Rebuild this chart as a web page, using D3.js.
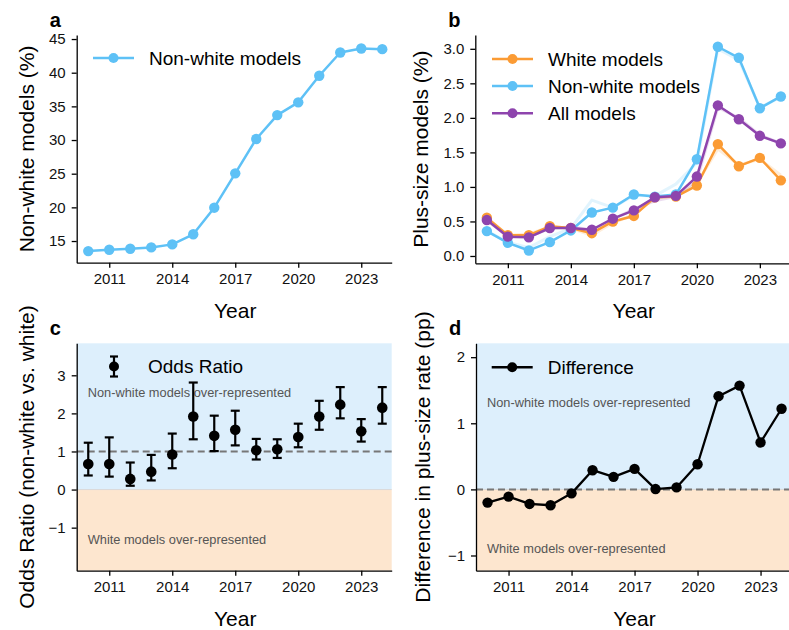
<!DOCTYPE html>
<html>
<head>
<meta charset="utf-8">
<script src="https://cdn.jsdelivr.net/npm/d3@7"></script>
<style>
  body { margin: 0; background: #fff; }
  svg { font-family: "Liberation Sans", Arial, Helvetica, sans-serif; }
</style>
</head>
<body>
<script>
// values
const years = d3.range(2010, 2025);
const xTicks = [2011, 2014, 2017, 2020, 2023];

// a: share of non-white models (%)
const nonWhiteShare = [13.5, 13.7, 13.85, 14.05, 14.5, 16.0, 19.95, 25.05, 30.15, 33.7, 35.6, 39.55, 43.0, 43.6, 43.5];

// b: plus-size rate (%)
const plusWhite    = [0.555, 0.30, 0.30, 0.43, 0.405, 0.33, 0.50, 0.58, 0.85, 0.86, 1.02, 1.62, 1.30, 1.42, 1.095];
const plusNonWhite = [0.36, 0.19, 0.08, 0.20, 0.37, 0.63, 0.70, 0.89, 0.86, 0.89, 1.40, 3.03, 2.87, 2.14, 2.31];
const plusAll      = [0.52, 0.28, 0.27, 0.405, 0.405, 0.38, 0.54, 0.66, 0.85, 0.87, 1.15, 2.18, 1.98, 1.74, 1.63];
// faint companion lines behind the main ones
const plusWhiteAlt    = [0.55, 0.30, 0.32, 0.42, 0.40, 0.30, 0.48, 0.60, 0.84, 0.86, 1.05, 1.55, 1.32, 1.40, 1.17];
const plusNonWhiteAlt = [0.36, 0.20, 0.12, 0.28, 0.40, 0.81, 0.70, 0.88, 0.87, 1.04, 1.35, 3.00, 2.84, 2.15, 2.30];
const plusAllAlt      = [0.52, 0.28, 0.28, 0.40, 0.42, 0.38, 0.53, 0.68, 0.80, 0.86, 1.10, 2.15, 2.00, 1.75, 1.63];

// c: odds ratio with CI
const oddsRatio = [0.67, 0.67, 0.28, 0.47, 0.92, 1.92, 1.41, 1.57, 1.03, 1.06, 1.38, 1.92, 2.23, 1.53, 2.15];
const orLow     = [0.37, 0.34, 0.10, 0.24, 0.56, 1.32, 1.01, 1.16, 0.79, 0.83, 1.11, 1.57, 1.87, 1.26, 1.73];
const orHigh    = [1.23, 1.37, 0.71, 0.91, 1.47, 2.81, 1.94, 2.07, 1.33, 1.32, 1.73, 2.33, 2.69, 1.85, 2.69];

// d: difference in plus-size rate (pp)
const diffRate = [-0.20, -0.11, -0.22, -0.24, -0.06, 0.29, 0.19, 0.31, 0.005, 0.03, 0.38, 1.41, 1.57, 0.71, 1.22];

const blue = "#5ec1f6", orange = "#fb9b34", purple = "#8e44ad";
const shadeBlue = "#ddeffc", shadeOrange = "#fde6cf";

const W = 789, H = 630;
const svg = d3.select("body").append("svg").attr("width", W).attr("height", H);

const fmtMinus = v => (v < 0 ? "\u2212" + Math.abs(v) : String(v));

function panel(opt) {
  const x = d3.scaleLinear().domain([2009.45, 2024.45]).range([opt.left, opt.left + 315]);
  const y = d3.scaleLinear().domain(opt.yDomain).range([opt.bottom, opt.top]);
  const g = svg.append("g");

  if (opt.shade) {
    g.append("rect").attr("x", x.range()[0]).attr("width", x.range()[1] - x.range()[0])
      .attr("y", y(opt.yDomain[1])).attr("height", y(0) - y(opt.yDomain[1])).attr("fill", shadeBlue);
    g.append("rect").attr("x", x.range()[0]).attr("width", x.range()[1] - x.range()[0])
      .attr("y", y(0)).attr("height", y(opt.yDomain[0]) - y(0)).attr("fill", shadeOrange);
    g.append("line").attr("x1", x.range()[0]).attr("x2", x.range()[1])
      .attr("y1", y(0)).attr("y2", y(0)).attr("stroke", "#d9d9d9").attr("stroke-width", 1);
    g.append("line").attr("x1", x.range()[0]).attr("x2", x.range()[1])
      .attr("y1", y(opt.refLine)).attr("y2", y(opt.refLine))
      .attr("stroke", "#777").attr("stroke-width", 2).attr("stroke-dasharray", "7,4");
    opt.notes.forEach(n => {
      g.append("text").attr("x", x.range()[0] + 11).attr("y", y(n.v) + 4.5)
        .attr("font-size", 12.8).attr("fill", "#555").text(n.t);
    });
  }

  // axes
  const xAxis = g.append("g").attr("transform", `translate(0,${opt.bottom})`)
    .call(d3.axisBottom(x).tickValues(xTicks).tickFormat(d3.format("d")).tickSize(5).tickPadding(6).tickSizeOuter(0));
  const yAxis = g.append("g").attr("transform", `translate(${opt.left},0)`)
    .call(d3.axisLeft(y).tickValues(opt.yTicks).tickFormat(opt.yFormat).tickSize(5).tickPadding(6).tickSizeOuter(0));
  [xAxis, yAxis].forEach(a => {
    a.select(".domain").attr("stroke", "#000").attr("stroke-width", 1.3);
    a.selectAll(".tick line").attr("stroke", "#000").attr("stroke-width", 1.3);
    a.selectAll(".tick text").attr("font-size", 15).attr("fill", "#111")
      .attr("font-family", "Liberation Sans, Arial, sans-serif");
  });

  // titles
  g.append("text").attr("x", (x.range()[0] + x.range()[1]) / 2 + 1).attr("y", opt.bottom + 55)
    .attr("text-anchor", "middle").attr("font-size", 21).text("Year");
  g.append("text")
    .attr("transform", `translate(${opt.yTitleX},${(opt.top + opt.bottom) / 2}) rotate(-90)`)
    .attr("text-anchor", "middle").attr("font-size", 21).text(opt.yTitle);
  g.append("text").attr("x", opt.left - 27).attr("y", opt.top - 8)
    .attr("font-size", 20).attr("font-weight", "bold").text(opt.letter);

  return { g, x, y };
}

function lineSeries(p, values, color, opts = {}) {
  const line = d3.line().x((d, i) => p.x(years[i])).y(d => p.y(d));
  p.g.append("path").datum(values).attr("d", line).attr("fill", "none")
    .attr("stroke", color).attr("stroke-width", opts.width || 2.5)
    .attr("stroke-opacity", opts.opacity || 1).attr("stroke-linejoin", "round");
  if (opts.dots !== false) {
    p.g.selectAll(null).data(values).enter().append("circle")
      .attr("cx", (d, i) => p.x(years[i])).attr("cy", d => p.y(d)).attr("r", 5.2)
      .attr("fill", color);
  }
}

function legendLine(p, x0, yc, color, label) {
  p.g.append("line").attr("x1", x0).attr("x2", x0 + 41).attr("y1", yc).attr("y2", yc)
    .attr("stroke", color).attr("stroke-width", 2.5);
  p.g.append("circle").attr("cx", x0 + 20.5).attr("cy", yc).attr("r", 5).attr("fill", color);
  p.g.append("text").attr("x", x0 + 56).attr("y", yc + 6.8).attr("font-size", 19).text(label);
}

// panel a
const pa = panel({
  left: 76.7, top: 35, bottom: 262.7, yDomain: [11.78, 45.6],
  yTicks: [15, 20, 25, 30, 35, 40, 45], yFormat: d3.format("d"),
  yTitle: "Non-white models (%)", yTitleX: 33.5, letter: "a"
});
lineSeries(pa, nonWhiteShare, blue);
legendLine(pa, 93, 58, blue, "Non-white models");

// panel b
const pb = panel({
  left: 475.3, top: 35, bottom: 263.3, yDomain: [-0.106, 3.2],
  yTicks: [0, 0.5, 1, 1.5, 2, 2.5, 3], yFormat: d3.format(".1f"),
  yTitle: "Plus-size models (%)", yTitleX: 428, letter: "b"
});
lineSeries(pb, plusWhiteAlt, orange, { width: 3, opacity: 0.18, dots: false });
lineSeries(pb, plusNonWhiteAlt, blue, { width: 3, opacity: 0.18, dots: false });
lineSeries(pb, plusAllAlt, purple, { width: 3, opacity: 0.18, dots: false });
lineSeries(pb, plusWhite, orange);
lineSeries(pb, plusNonWhite, blue);
lineSeries(pb, plusAll, purple);
legendLine(pb, 492, 59, orange, "White models");
legendLine(pb, 492, 86, blue, "Non-white models");
legendLine(pb, 492, 113.3, purple, "All models");

// panel c
const pc = panel({
  left: 76.7, top: 343.3, bottom: 570.7, yDomain: [-2.13, 3.84],
  yTicks: [-1, 0, 1, 2, 3], yFormat: fmtMinus,
  yTitle: "Odds Ratio (non-white vs. white)", yTitleX: 34, letter: "c",
  shade: true, refLine: 1,
  notes: [{ v: 2.55, t: "Non-white models over-represented" }, { v: -1.3, t: "White models over-represented" }]
});
years.forEach((yr, i) => {
  const cx = pc.x(yr);
  pc.g.append("line").attr("x1", cx).attr("x2", cx).attr("y1", pc.y(orLow[i])).attr("y2", pc.y(orHigh[i]))
    .attr("stroke", "#000").attr("stroke-width", 2.2);
  [orLow[i], orHigh[i]].forEach(v => {
    pc.g.append("line").attr("x1", cx - 4.5).attr("x2", cx + 4.5).attr("y1", pc.y(v)).attr("y2", pc.y(v))
      .attr("stroke", "#000").attr("stroke-width", 2.2);
  });
});
pc.g.selectAll(null).data(oddsRatio).enter().append("circle")
  .attr("cx", (d, i) => pc.x(years[i])).attr("cy", d => pc.y(d)).attr("r", 5.3).attr("fill", "#000");
// legend c
{
  const lx = 114, ly = 366.5;
  pc.g.append("line").attr("x1", lx).attr("x2", lx).attr("y1", ly - 10).attr("y2", ly + 10).attr("stroke", "#000").attr("stroke-width", 2.2);
  [ly - 10, ly + 10].forEach(v => pc.g.append("line").attr("x1", lx - 4).attr("x2", lx + 4).attr("y1", v).attr("y2", v).attr("stroke", "#000").attr("stroke-width", 2.2));
  pc.g.append("circle").attr("cx", lx).attr("cy", ly).attr("r", 5).attr("fill", "#000");
  pc.g.append("text").attr("x", 148).attr("y", ly + 6.8).attr("font-size", 19).text("Odds Ratio");
}

// panel d
const pd = panel({
  left: 476, top: 343.3, bottom: 570.7, yDomain: [-1.23, 2.21],
  yTicks: [-1, 0, 1, 2], yFormat: fmtMinus,
  yTitle: "Difference in plus-size rate (pp)", yTitleX: 429.5, letter: "d",
  shade: true, refLine: 0,
  notes: [{ v: 1.32, t: "Non-white models over-represented" }, { v: -0.9, t: "White models over-represented" }]
});
lineSeries(pd, diffRate, "#000", { width: 2.3 });
legendLine(pd, 491.7, 367.3, "#000", "Difference");
</script>
</body>
</html>
